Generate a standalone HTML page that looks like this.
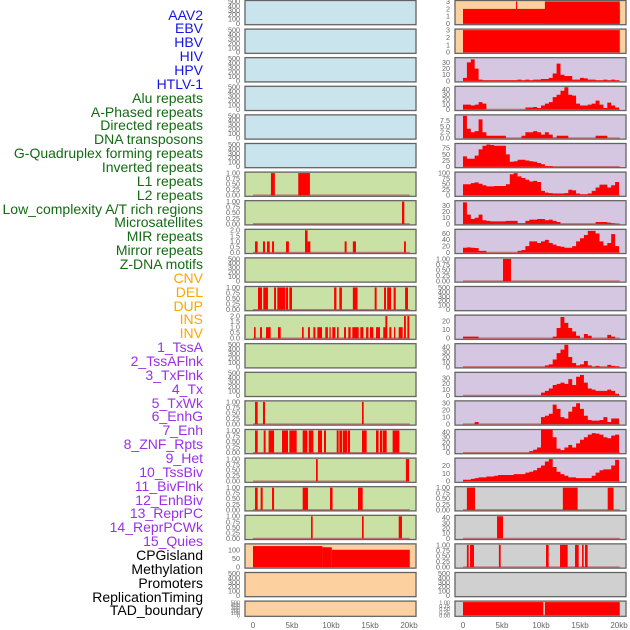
<!DOCTYPE html>
<html><head><meta charset="utf-8"><style>
html,body{margin:0;padding:0;background:#fff;}
#wrap{position:relative;width:630px;height:630px;overflow:hidden;font-family:"Liberation Sans",sans-serif;}
.lab{position:absolute;right:427px;font-size:14px;line-height:14px;white-space:nowrap;}
svg{position:absolute;left:0;top:0;}
</style></head><body>
<div id="wrap">
<svg id="chart" width="630" height="630"></svg>
</div>
<script>
// ---- labels ----
const labelNames = ["AAV2","EBV","HBV","HIV","HPV","HTLV-1","Alu repeats","A-Phased repeats","Directed repeats","DNA transposons","G-Quadruplex forming repeats","Inverted repeats","L1 repeats","L2 repeats","Low_complexity A/T rich regions","Microsatellites","MIR repeats","Mirror repeats","Z-DNA motifs","CNV","DEL","DUP","INS","INV","1_TssA","2_TssAFlnk","3_TxFlnk","4_Tx","5_TxWk","6_EnhG","7_Enh","8_ZNF_Rpts","9_Het","10_TssBiv","11_BivFlnk","12_EnhBiv","13_ReprPC","14_ReprPCWk","15_Quies","CPGisland","Methylation","Promoters","ReplicationTiming","TAD_boundary"];
const labelGroups = [6,13,5,15,5]; // blue, green, orange, purple, black counts
const xTickLabels = ["0","5kb","10kb","15kb","20kb"];
const xTickValues = [0,5,10,15,20];

// ---- left column bar data [startKb, endKb, height] ----
const leftBars6 = [[2.3,2.8,1],[5.8,7.3,1]];
const leftBars7 = [[19.1,19.4,1]];
const leftBars8 = [[0.26,0.6,1],[1.28,1.54,1],[1.8,2.14,1],[2.44,2.7,1],[4.23,4.6,1],[6.67,7.0,2],[7.0,7.35,1],[11.75,12.0,1],[12.8,13.2,1],[19.36,19.6,1]];
const leftBars10 = [[0.64,1.15,1],[1.32,1.92,1],[2.7,2.95,1],[3.12,4.15,1],[4.23,4.5,1],[4.66,5.0,1],[10.4,10.7,1],[11.07,11.4,1],[12.8,13.4,1],[15.6,15.85,1],[16.8,17.05,1],[17.2,17.7,1],[18.03,18.3,1],[19.5,19.87,1]];
const leftBars11 = [[0.13,0.34,1],[0.9,1.15,1],[1.67,2.26,1],[3.2,3.55,1],[6.28,6.5,1],[7.05,7.3,1],[7.74,8.0,1],[8.25,8.85,1],[9.27,9.6,1],[9.8,9.96,1],[10.17,10.56,1],[10.77,10.98,1],[11.67,11.92,1],[12.22,12.52,1],[12.73,13.55,1],[13.76,14.15,1],[14.5,14.8,1],[15.0,15.43,1],[15.77,16.28,1],[16.7,17.05,1],[16.97,17.22,2],[17.48,17.74,1],[18.08,18.25,1],[18.68,19.19,1],[19.36,19.6,2],[19.79,20.04,2]];
const leftBars14 = [[0.26,0.6,1],[1.28,1.54,1],[13.97,14.19,1]];
const leftBars15 = [[0.26,0.6,1],[1.37,1.62,1],[2.0,2.7,1],[3.72,4.49,1],[4.66,5.6,1],[6.37,6.97,1],[7.14,7.74,1],[8.33,8.85,1],[9.1,9.36,1],[10.73,10.98,1],[11.07,11.41,1],[11.5,12.09,1],[12.18,12.44,1],[13.97,14.57,1],[15.77,16.1,1],[16.28,16.54,1],[16.62,17.14,1],[17.9,18.76,1]];
const leftBars16 = [[8.08,8.3,1],[19.6,20.0,1]];
const leftBars17 = [[0.26,0.6,1],[0.98,1.24,1],[2.44,2.7,1],[6.37,7.05,1],[9.87,10.2,1],[13.46,14.06,1]];
const leftBars18 = [[7.44,7.65,1],[13.97,14.19,1],[18.68,19.1,1]];
const leftBars19 = [[0,8.9,125],[8.9,10.1,118],[10.1,20.1,103]];

// ---- right column bar data ----
const rightBars0 = [[0,20.1,2],[6.8,6.95,3],[10.5,20.1,3]];
const rightBars1 = [[0,20.1,3]];
const rightBars9 = [[5.13,6.15,1]];
const rightBars17 = [[0.5,1.54,1],[12.8,14.7,1],[18.55,19.3,1]];
const rightBars18 = [[4.36,5.13,43]];
const rightBars19 = [[0.5,0.73,1],[0.9,1.41,1],[4.6,4.83,1],[10.64,10.98,1],[12.44,13.42,1],[14.36,14.83,1],[15.26,15.47,1],[15.64,15.98,1]];
const rightBars21 = [[0,10.3,1],[10.5,20.1,1]];

// ---- right column histograms (0.5 kb bins, 0..20 kb) ----
const rightHist2 = [5,30,35,20,2,1,1,1,1,1,1,1,1,1,2,1,2,1,2,2,3,3,5,12,28,10,8,8,2,2,5,4,2,2,1,1,2,1,2,1];
const rightHist3 = [10,10,8,10,15,12,0,0,0,0,0,0,0,0,0,0,4,4,5,3,8,12,15,25,30,38,45,30,28,12,8,8,10,12,18,10,3,14,8,4];
const rightHist4 = [9.5,4,2.5,3,8,2.5,1,1,1,1,1,0,0,0,0,1,2.5,2.5,3,2.5,1.5,2.5,1.5,0.2,1,1,1,0,0,0,0,0,0,0,1,1,1,0,0,0];
const rightHist5 = [42,32,32,45,70,85,90,88,85,85,85,50,20,22,28,28,25,22,20,15,10,3,3,0,0,0,0,0,0,0,0,0,0,0,0,0,0,0,0,0];
const rightHist6 = [50,50,55,58,52,45,40,40,42,42,42,50,95,100,85,78,70,62,65,60,20,12,10,8,8,8,10,25,22,8,5,5,8,20,35,48,48,35,45,60];
const rightHist7 = [35,15,8,10,15,6,5,4,4,4,4,5,5,5,1,1,5,7,7,8,8,6,7,5,3,0,0,0,0,0,0,0,0,0,3,3,3,2,1,0];
const rightHist8 = [15,16,15,14,5,5,0,0,0,0,0,0,0,0,5,8,20,35,35,30,35,40,30,25,20,18,15,15,20,35,45,55,68,68,60,35,22,30,58,20];
const rightHist11 = [2,2,2,2,0,0,0,0,0,0,0,0,0,0,0,0,0,0,0,0,0,0,0,2,12,25,18,12,8,3,0,5,3,0,0,0,0,4,2,0];
const rightHist12 = [0,0,0,0,0,0,0,0,0,0,0,0,0,0,0,0,0,0,0,0,0,3,5,15,28,35,45,20,8,3,5,12,3,0,2,0,0,4,2,1];
const rightHist13 = [0,0,0,0,0,0,0,0,0,0,0,0,0,0,0,0,0,0,0,0,5,8,12,18,20,22,20,28,18,32,35,22,12,10,8,8,8,10,8,3];
const rightHist14 = [0,0,0,3,0,0,0,0,0,0,0,0,0,0,0,0,0,0,0,0,10,12,15,28,22,10,8,18,25,30,22,12,6,5,5,6,10,3,8,8];
const rightHist15 = [0,0,0,0,0,0,0,0,0,0,0,0,0,0,0,0,0,3,6,10,45,45,45,30,8,5,10,15,10,18,25,30,35,38,37,35,30,28,33,35];
const rightHist16 = [2,2,3,4,5,5,6,6,7,8,8,8,8,9,9,9,11,12,14,17,20,25,28,18,12,9,7,5,5,4,4,4,4,7,11,14,15,15,20,27];

// ---- tick label sets ----
const ticks500 = [0,100,200,300,400,500];
const ticks1 = ["0.00","0.25","0.50","0.75","1.00"];
const ticks2 = ["0.0","0.5","1.0","1.5","2.0"];

const C_BLUE="#c9e4ec", C_GREEN="#c9e1a5", C_PURPLE="#d5c6e2", C_ORANGE="#fdd09f", C_GREY="#d0d0d0";

function T(list){return list.map(v=>[Number(v),String(v)]);}
const leftPanels = [];
for(let r=0;r<6;r++) leftPanels.push({bg:C_BLUE,ticks:T(ticks500),ymax:500});
leftPanels.push({bg:C_GREEN,ticks:T(ticks1),ymax:1,bars:leftBars6});
leftPanels.push({bg:C_GREEN,ticks:T(ticks1),ymax:1,bars:leftBars7});
leftPanels.push({bg:C_GREEN,ticks:T(ticks2),ymax:2,bars:leftBars8});
leftPanels.push({bg:C_GREEN,ticks:T(ticks500),ymax:500});
leftPanels.push({bg:C_GREEN,ticks:T(ticks1),ymax:1,bars:leftBars10});
leftPanels.push({bg:C_GREEN,ticks:T(ticks2),ymax:2,bars:leftBars11});
leftPanels.push({bg:C_GREEN,ticks:T(ticks500),ymax:500});
leftPanels.push({bg:C_GREEN,ticks:T(ticks500),ymax:500});
leftPanels.push({bg:C_GREEN,ticks:T(ticks1),ymax:1,bars:leftBars14});
leftPanels.push({bg:C_GREEN,ticks:T(ticks1),ymax:1,bars:leftBars15});
leftPanels.push({bg:C_GREEN,ticks:T(ticks1),ymax:1,bars:leftBars16});
leftPanels.push({bg:C_GREEN,ticks:T(ticks1),ymax:1,bars:leftBars17});
leftPanels.push({bg:C_GREEN,ticks:T(ticks1),ymax:1,bars:leftBars18});
leftPanels.push({bg:C_ORANGE,ticks:T([0,50,100]),ymax:132,bars:leftBars19});
leftPanels.push({bg:C_ORANGE,ticks:T(ticks500),ymax:500});
leftPanels.push({bg:C_ORANGE,ticks:T(ticks500),ymax:500});

const rightPanels = [
 {bg:C_ORANGE,ticks:T([0,1,2,3]),ymax:3,bars:rightBars0},
 {bg:C_ORANGE,ticks:T([0,1,2,3]),ymax:3,bars:rightBars1},
 {bg:C_PURPLE,ticks:T([0,10,20,30]),ymax:36,hist:rightHist2},
 {bg:C_PURPLE,ticks:T([0,10,20,30,40]),ymax:45,hist:rightHist3},
 {bg:C_PURPLE,ticks:T(["0.0","2.5","5.0","7.5"]),ymax:9.5,hist:rightHist4},
 {bg:C_PURPLE,ticks:T([0,25,50,75]),ymax:90,hist:rightHist5},
 {bg:C_PURPLE,ticks:T([0,25,50,75,100]),ymax:100,hist:rightHist6},
 {bg:C_PURPLE,ticks:T([0,10,20,30]),ymax:36,hist:rightHist7},
 {bg:C_PURPLE,ticks:T([0,20,40,60]),ymax:70,hist:rightHist8},
 {bg:C_PURPLE,ticks:T(ticks1),ymax:1,bars:rightBars9},
 {bg:C_PURPLE,ticks:T(ticks500),ymax:500},
 {bg:C_PURPLE,ticks:T([0,10,20]),ymax:26,hist:rightHist11},
 {bg:C_PURPLE,ticks:T([0,10,20,30,40]),ymax:45,hist:rightHist12},
 {bg:C_PURPLE,ticks:T([0,10,20,30]),ymax:38,hist:rightHist13},
 {bg:C_PURPLE,ticks:T([0,10,20,30]),ymax:32,hist:rightHist14},
 {bg:C_PURPLE,ticks:T([0,10,20,30,40]),ymax:43,hist:rightHist15},
 {bg:C_PURPLE,ticks:T([0,10,20]),ymax:28,hist:rightHist16},
 {bg:C_GREY,ticks:T(ticks1),ymax:1,bars:rightBars17},
 {bg:C_GREY,ticks:T([0,10,20,30,40]),ymax:43,bars:rightBars18},
 {bg:C_GREY,ticks:T(ticks1),ymax:1,bars:rightBars19},
 {bg:C_GREY,ticks:T(ticks500),ymax:500},
 {bg:C_GREY,ticks:T(ticks1),ymax:1,bars:rightBars21}
];

const NS="http://www.w3.org/2000/svg";
const svg=document.getElementById('chart');
function mk(tag,attrs,parent){const e=document.createElementNS(NS,tag);for(const k in attrs)e.setAttribute(k,attrs[k]);(parent||svg).appendChild(e);return e;}

// labels
const wrap=document.getElementById('wrap');
const groupColors=["#1515e6","#136b13","#ffa500","#9a30e8","#000000"];
let gi=0,cnt=0;
labelNames.forEach((name,i)=>{
  while(cnt>=labelGroups[gi]){cnt=0;gi++;}
  cnt++;
  const d=document.createElement('div');
  d.className='lab';
  d.style.top=(15+i*13.86-7.5)+'px';
  d.style.color=groupColors[gi];
  d.textContent=name;
  
  
  wrap.appendChild(d);
});

function panelRect(r){const top=r*28.6;const h=(r===21)?15.7:24.7;return {top:top,bottom:top+h};}

function drawPanel(p,r,fx0,fx1,x0,side){
  const pr=panelRect(r);
  const g=mk('g',{});
  
  
  mk('rect',{x:fx0,y:pr.top+0.5,width:fx1-fx0,height:pr.bottom-pr.top-0.5,fill:p.bg,stroke:'#9a9a9a','stroke-width':1.5},g);
  const yb=pr.bottom-1, yt=pr.top+1.5;
  const ys=v=>yb-(v/p.ymax)*(yb-yt);
  const xs=kb=>x0+kb*7.8;
  p.ticks.forEach(t=>{
    const tx=mk('text',{x:fx0-5,y:ys(t[0])+2.4,'text-anchor':'end','font-size':(r===21?5.5:7.2),fill:'#666','font-family':'Liberation Sans, sans-serif'},g);
    tx.textContent=t[1];
    
    
  });
  if(p.bars||p.hist) mk('line',{x1:xs(0),x2:xs(20.1),y1:yb,y2:yb,stroke:'#c07070','stroke-width':1.5},g);
  if(p.bars){
    p.bars.forEach(b=>{
      const y=ys(b[2]);
      const rc=mk('rect',{x:xs(b[0]),y:y,width:Math.max(0.8,xs(b[1])-xs(b[0])),height:yb-y,fill:'#ff0000'},g);
      
      
    });
  }
  if(p.hist){
    let d='M'+xs(0)+','+yb;
    p.hist.forEach((v,i)=>{d+=' L'+xs(i*0.5)+','+ys(v)+' L'+xs((i+1)*0.5)+','+ys(v);});
    d+=' L'+xs(p.hist.length*0.5)+','+yb+' Z';
    const pa=mk('path',{d:d,fill:'#ff0000'},g);
    
    
  }
  mk('rect',{x:fx0,y:pr.top+0.5,width:fx1-fx0,height:pr.bottom-pr.top-0.5,fill:'none',stroke:'#555','stroke-width':0.8},g);
}
leftPanels.forEach((p,r)=>drawPanel(p,r,245,416,253,'left'));
rightPanels.forEach((p,r)=>drawPanel(p,r,455,626,463,'right'));

// x axes
[253,463].forEach((x0,k)=>{
  xTickValues.forEach((v,i)=>{
    const t=mk('text',{x:x0+v*7.8,y:628,'text-anchor':'middle','font-size':8,fill:'#666','font-family':'Liberation Sans, sans-serif'});
    t.textContent=xTickLabels[i];
    
    
  });
});
</script>
</body></html>
